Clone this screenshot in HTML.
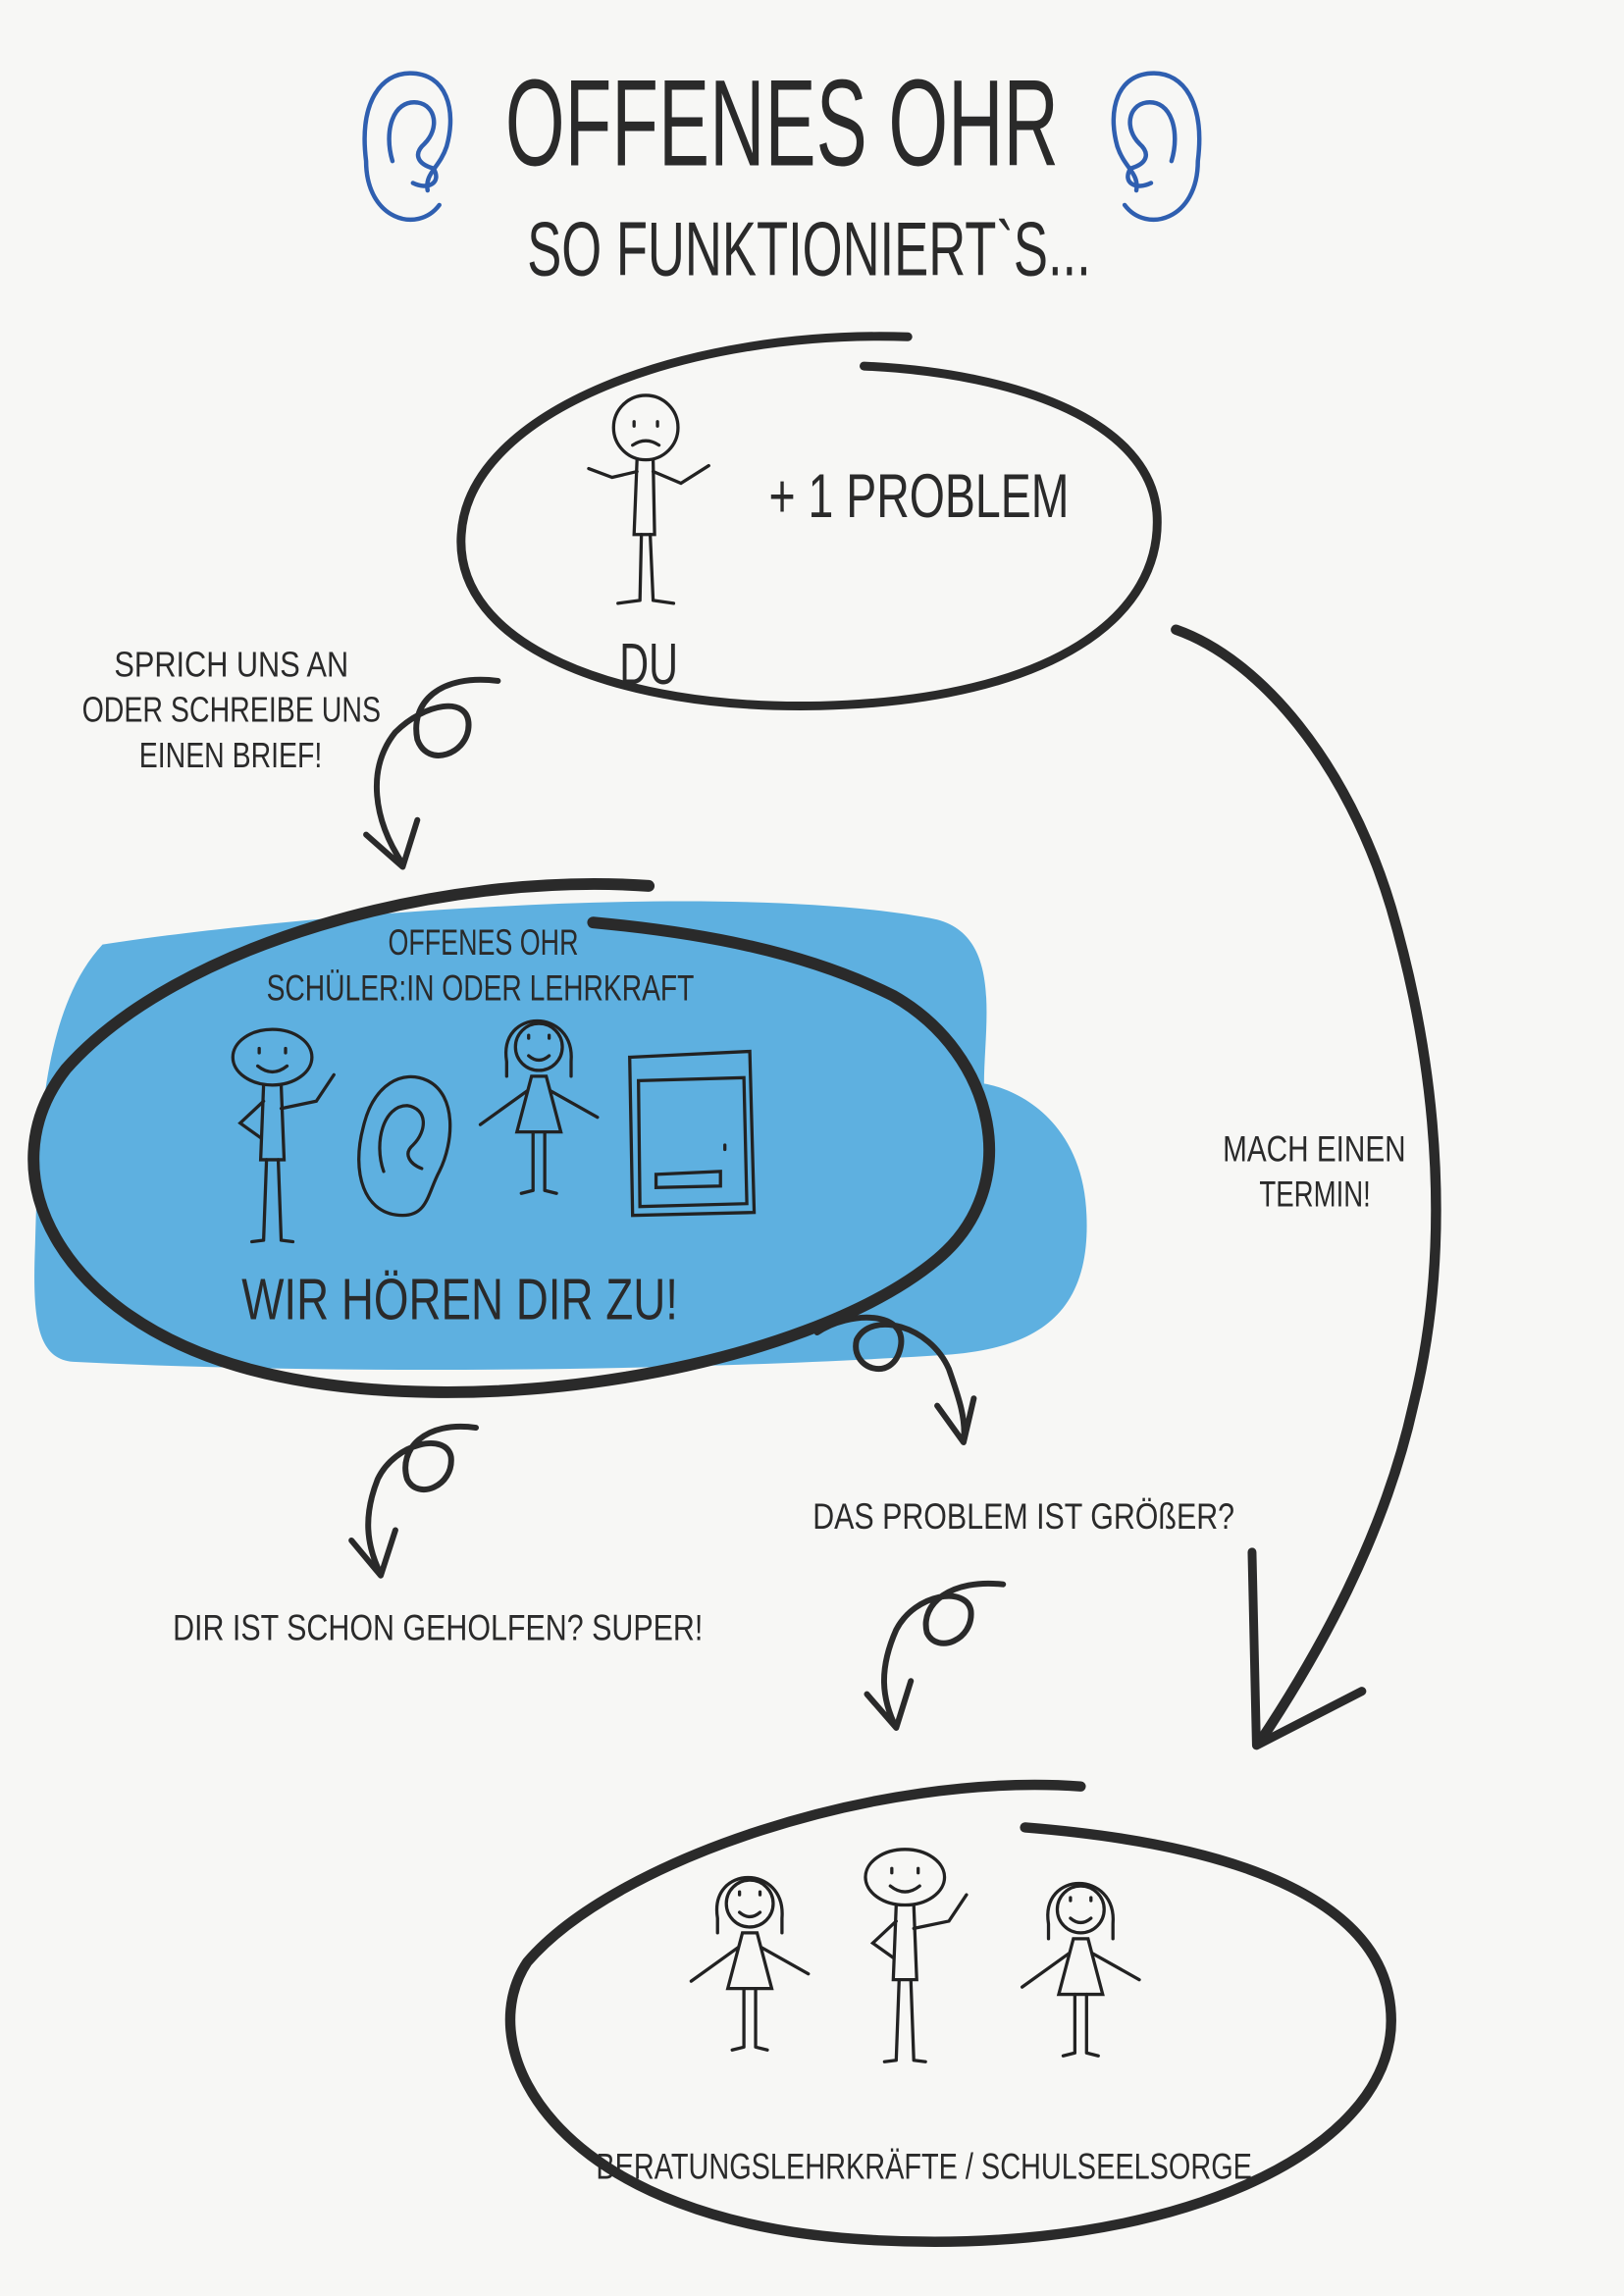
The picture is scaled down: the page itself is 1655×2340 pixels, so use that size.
<!DOCTYPE html>
<html><head><meta charset="utf-8"><style>
html,body{margin:0;padding:0;background:#f7f7f5}
svg{display:block}
text{font-family:"Liberation Sans Narrow","Liberation Sans",sans-serif;fill:#2a2a2a}
</style></head><body>
<svg width="1655" height="2340" viewBox="0 0 1109 1568" xmlns="http://www.w3.org/2000/svg">
<rect width="1109" height="1568" fill="#f7f7f5"/>
<defs>
<g id="earL" fill="none" stroke="#2f5fb0" stroke-width="3" stroke-linecap="round">
<path d="M300 140 C285 160 250 150 250 110 C245 70 260 50 280 50 C305 50 312 75 305 100 C300 115 290 118 292 130"/>
<path d="M268 110 C262 90 268 68 285 70 C298 72 300 88 290 98 C282 105 285 112 296 115 C302 125 292 130 282 125"/>
</g>
<g id="girl" fill="none" stroke="#222" stroke-width="2.2" stroke-linecap="round">
<path d="M-22 12 C-28 -25 25 -25 22 12 L22 22 M-22 12 L-22 22"/>
<circle cx="0" cy="2" r="16"/>
<path d="M-7 -6 l0 2 M7 -6 l0 2 M-7 8 Q0 14 7 8"/>
<path d="M-5 22 L-15 60 L15 60 L5 22 Z"/>
<path d="M-8 32 L-40 55 M8 32 L40 50"/>
<path d="M-4 60 L-4 100 M4 60 L4 100 M-4 100 L-12 102 M4 100 L12 102"/>
</g>
<g id="boy" fill="none" stroke="#222" stroke-width="2.2" stroke-linecap="round">
<ellipse cx="0" cy="0" rx="27" ry="19"/>
<path d="M-9 -6 l0 3 M9 -6 l0 3 M-10 6 Q0 14 10 6"/>
<path d="M-6 19 L-8 70 L8 70 L6 19"/>
<path d="M-6 30 L-22 45 L-8 55 M6 35 L30 30 L42 12"/>
<path d="M-4 70 L-6 125 M4 70 L6 125 M-6 125 L-14 126 M6 125 L14 126"/>
</g>
</defs>

<use href="#earL"/>
<use href="#earL" transform="translate(1068 0) scale(-1 1)"/>

<text x="345" y="113" font-size="84" textLength="378" lengthAdjust="spacingAndGlyphs">OFFENES OHR</text>
<text x="360" y="188" font-size="52" textLength="385" lengthAdjust="spacingAndGlyphs">SO FUNKTIONIERT`S...</text>

<path d="M620 230 C470 225 320 280 315 365 C310 440 420 485 560 482 C720 478 795 420 790 350 C785 290 700 255 590 250" fill="none" stroke="#2a2a2a" stroke-width="6" stroke-linecap="round"/>
<g fill="none" stroke="#222" stroke-width="2.2" stroke-linecap="round">
<circle cx="441" cy="292" r="22"/>
<path d="M433 288 l0 3 M449 288 l0 3 M432 304 Q441 298 450 304"/>
<path d="M435 314 L433 365 L447 365 L446 314"/>
<path d="M435 322 L418 326 L402 320 M446 322 L465 330 L484 318"/>
<path d="M438 365 L437 410 M444 365 L446 410 M437 410 L422 412 M446 410 L460 412"/>
</g>
<text x="525" y="353" font-size="42" textLength="205" lengthAdjust="spacingAndGlyphs">+ 1 PROBLEM</text>
<text x="423" y="467" font-size="40" textLength="40" lengthAdjust="spacingAndGlyphs">DU</text>

<text font-size="24"><tspan x="78" y="462" textLength="160" lengthAdjust="spacingAndGlyphs">SPRICH UNS AN</tspan></text>
<text font-size="24"><tspan x="56" y="493" textLength="204" lengthAdjust="spacingAndGlyphs">ODER SCHREIBE UNS</tspan></text>
<text font-size="24"><tspan x="95" y="524" textLength="125" lengthAdjust="spacingAndGlyphs">EINEN BRIEF!</tspan></text>

<path d="M803 430 C860 450 920 520 950 620 C985 740 990 860 965 960 C945 1050 900 1130 860 1190" fill="none" stroke="#2a2a2a" stroke-width="7" stroke-linecap="round"/>
<path d="M855 1060 L858 1192 L930 1155" fill="none" stroke="#2a2a2a" stroke-width="6" stroke-linecap="round" stroke-linejoin="round"/>
<text x="835" y="793" font-size="25" textLength="125" lengthAdjust="spacingAndGlyphs">MACH EINEN</text>
<text x="860" y="824" font-size="25" textLength="76" lengthAdjust="spacingAndGlyphs">TERMIN!</text>

<path d="M70 645 C200 625 500 600 640 628 C685 640 672 700 672 740 C700 745 740 770 742 830 C745 900 705 920 650 925 C500 935 250 940 50 930 C25 928 22 900 24 850 C26 780 28 690 70 645 Z" fill="#5eb0e0"/>

<g fill="none" stroke="#2a2a2a" stroke-width="4" stroke-linecap="round" stroke-linejoin="round">
<path d="M340 465 C300 460 280 480 285 505 C292 525 320 515 320 495 C320 475 290 480 270 500 C250 525 255 560 275 590 M250 570 L275 592 L285 560"/>
<path d="M558 910 C580 895 620 895 615 920 C610 945 580 935 585 915 C595 895 635 905 648 935 C655 955 660 970 658 985 M640 960 L658 985 L665 955"/>
<path d="M325 975 C290 970 272 990 278 1010 C285 1025 310 1015 308 995 C305 978 270 985 258 1010 C248 1035 250 1055 260 1075 M240 1052 L260 1076 L270 1045"/>
<path d="M685 1082 C650 1078 628 1095 633 1115 C640 1130 665 1120 663 1100 C660 1083 625 1088 612 1113 C600 1140 602 1160 612 1180 M592 1157 L612 1180 L622 1148"/>
</g>

<path d="M443 605 C300 595 120 645 45 730 C-10 800 40 900 170 935 C320 975 550 935 640 860 C700 810 680 720 610 680 C550 650 480 637 405 630" fill="none" stroke="#2a2a2a" stroke-width="8" stroke-linecap="round"/>
<text x="265" y="652" font-size="25" textLength="130" lengthAdjust="spacingAndGlyphs">OFFENES OHR</text>
<text x="182" y="683" font-size="25" textLength="292" lengthAdjust="spacingAndGlyphs">SCHÜLER:IN ODER LEHRKRAFT</text>
<text x="165" y="901" font-size="40" textLength="298" lengthAdjust="spacingAndGlyphs">WIR HÖREN DIR ZU!</text>
<use href="#boy" transform="translate(186 722)"/>
<g fill="none" stroke="#222" stroke-width="2.2" stroke-linecap="round">
<path d="M275 830 C248 830 240 800 248 770 C255 740 275 730 292 738 C312 748 310 780 300 800 C292 815 292 830 275 830"/>
<path d="M262 800 C255 780 262 755 278 755 C292 757 292 772 282 782 C275 788 280 795 288 798"/>
<path d="M430 722 L512 718 L515 828 L432 830 Z M436 738 L508 736 L510 822 L437 824 Z M448 802 L492 800 L492 810 L448 811 Z M495 782 l0 3"/>
</g>
<use href="#girl" transform="translate(368 713)"/>

<text x="555" y="1044" font-size="25" textLength="288" lengthAdjust="spacingAndGlyphs">DAS PROBLEM IST GRÖßER?</text>
<text x="118" y="1120" font-size="25" textLength="362" lengthAdjust="spacingAndGlyphs">DIR IST SCHON GEHOLFEN? SUPER!</text>

<path d="M738 1220 C600 1210 420 1270 360 1340 C320 1400 380 1520 600 1530 C800 1540 950 1470 950 1380 C950 1300 850 1260 700 1248" fill="none" stroke="#2a2a2a" stroke-width="7" stroke-linecap="round"/>
<use href="#girl" transform="translate(512 1298)"/>
<use href="#boy" transform="translate(618 1282)"/>
<use href="#girl" transform="translate(738 1302)"/>
<text x="407" y="1488" font-size="25" textLength="448" lengthAdjust="spacingAndGlyphs">BERATUNGSLEHRKRÄFTE / SCHULSEELSORGE</text>
</svg>
</body></html>
